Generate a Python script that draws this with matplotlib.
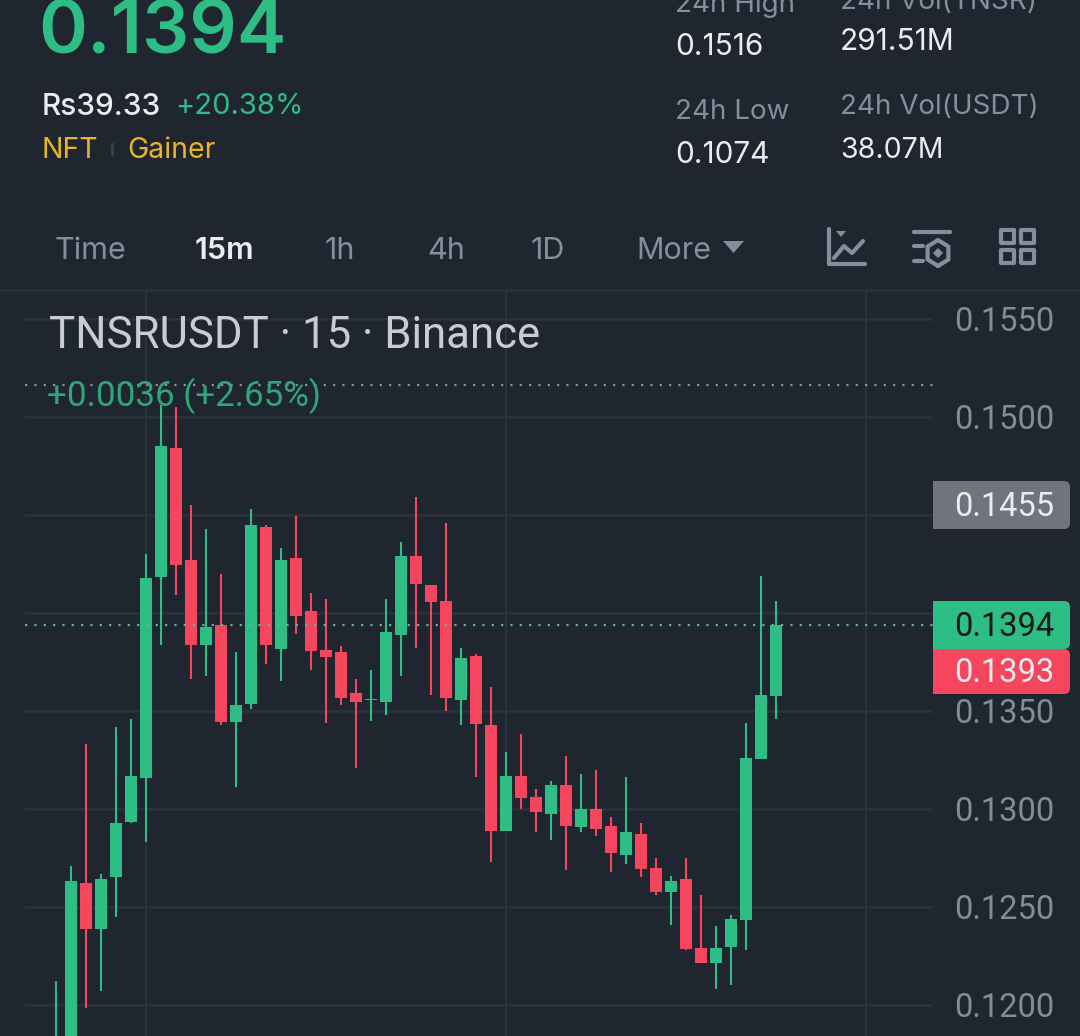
import numpy as np
import matplotlib
matplotlib.use("Agg")
import matplotlib.pyplot as plt
from matplotlib.patches import FancyBboxPatch

# candles, left to right (price units)
opens = [0.11743, 0.11718, 0.12621, 0.12387, 0.12652, 0.12934, 0.13157, 0.14183, 0.14841, 0.14270,
         0.13836, 0.13937, 0.13442, 0.13536, 0.14438, 0.13815, 0.14279, 0.14009, 0.13811, 0.13801,
         0.13591, 0.13557, 0.13546, 0.13886, 0.14289, 0.14140, 0.14060, 0.13555, 0.13779, 0.13427,
         0.12886, 0.13167, 0.13060, 0.12973, 0.13121, 0.12907, 0.12999, 0.12912, 0.12764, 0.12871,
         0.12697, 0.12575, 0.12641, 0.12289, 0.12213, 0.12294, 0.12432, 0.13254, 0.13575]
highs = [0.12121, 0.12706, 0.13331, 0.12665, 0.13417, 0.13459, 0.14299, 0.15060, 0.15048, 0.14547,
         0.14425, 0.14195, 0.13798, 0.14527, 0.14448, 0.14328, 0.14495, 0.14098, 0.14070, 0.13832,
         0.13662, 0.13706, 0.14068, 0.14359, 0.14590, 0.14141, 0.14459, 0.13818, 0.13789, 0.13619,
         0.13289, 0.13381, 0.13101, 0.13141, 0.13269, 0.13177, 0.13197, 0.12958, 0.13162, 0.12927,
         0.12748, 0.12657, 0.12748, 0.12560, 0.12402, 0.12458, 0.13437, 0.14187, 0.14060]
lows = [0.11692, 0.11641, 0.11982, 0.12071, 0.12447, 0.12927, 0.12830, 0.13834, 0.14090, 0.13662,
        0.13678, 0.13428, 0.13111, 0.13509, 0.13738, 0.13652, 0.13891, 0.13708, 0.13438, 0.13529,
        0.13209, 0.13449, 0.13478, 0.13679, 0.13821, 0.13580, 0.13498, 0.13427, 0.13162, 0.12728,
        0.12886, 0.12999, 0.12881, 0.12840, 0.12687, 0.12881, 0.12861, 0.12677, 0.12718, 0.12652,
        0.12560, 0.12407, 0.12279, 0.12213, 0.12080, 0.12100, 0.12279, 0.13254, 0.13458]
closes = [0.11794, 0.12632, 0.12387, 0.12642, 0.12927, 0.13167, 0.14177, 0.14852, 0.14243, 0.13836,
          0.13927, 0.13442, 0.13529, 0.14448, 0.13836, 0.14270, 0.13983, 0.13805, 0.13774, 0.13565,
          0.13544, 0.13562, 0.13900, 0.14289, 0.14146, 0.14055, 0.13565, 0.13769, 0.13432, 0.12886,
          0.13167, 0.13055, 0.12983, 0.13121, 0.12912, 0.12999, 0.12896, 0.12774, 0.12881, 0.12692,
          0.12575, 0.12631, 0.12284, 0.12213, 0.12289, 0.12437, 0.13259, 0.13580, 0.13937]

price_ticks = [0.1550, 0.1500, 0.1450, 0.1400, 0.1350, 0.1300, 0.1250, 0.1200]
hidden_ticks = [0.1450, 0.1400]  # covered by the price tags on screen
time_grid = [6, 30, 54]
last_price = 0.13937
day_high = 0.15164

tabs = ["Time", "15m", "1h", "4h", "1D", "More"]
tab_x = [55, 195, 325, 427, 531, 636]

BG = "#1f2630"
GREEN = "#2ebd85"
RED = "#f6465d"
GRID = "#2b323c"
MUTED = "#848e9c"
WHITE = "#eaecef"
YELLOW = "#e8b52a"
UI_FONT = "Inter"
CHART_FONT = "Roboto"

W, H = 1080, 1036
fig = plt.figure(figsize=(W / 100, H / 100), dpi=100, facecolor=BG)

# chart panel, the limits line up the grid with the screen pixels
left, right, top, bottom = 25, 933, 290, 1036
ax = fig.add_axes([left / W, 1 - bottom / H, (right - left) / W, (bottom - top) / H])
ax.set_facecolor(BG)
ax.set_xlim((left - 56) / 15, (right - 56) / 15)
ax.set_ylim(0.15 - (bottom - 416.7) * 0.00005102, 0.15 - (top - 416.7) * 0.00005102)
for s in ax.spines.values():
    s.set_visible(False)
ax.tick_params(left=False, bottom=False, labelleft=False, labelbottom=False)

for p in price_ticks:
    ax.axhline(p, color=GRID, lw=1.8, zorder=1)
for t in time_grid:
    ax.axvline(t, color=GRID, lw=1.5, zorder=1)

for i in range(len(opens)):
    col = GREEN if closes[i] >= opens[i] else RED
    ax.plot([i, i], [lows[i], highs[i]], color=col, lw=1.5, solid_capstyle="butt", zorder=3)
    ax.bar(i, abs(closes[i] - opens[i]), bottom=min(opens[i], closes[i]), width=0.8, color=col, lw=0, zorder=3)

ax.axhline(last_price, color="#5fb59b", lw=1.6, ls=(0, (1, 3.2)), zorder=4)
ax.axhline(day_high, color="#8a929c", lw=1.6, ls=(0, (1, 3.2)), zorder=2)

# overlay in pixel coordinates for the app chrome
ov = fig.add_axes([0, 0, 1, 1])
ov.set_xlim(0, W)
ov.set_ylim(H, 0)
ov.axis("off")
ov.patch.set_alpha(0)


def txt(x, y, s, size, color, ha="left", weight="normal", font=UI_FONT):
    ov.text(x, y, s, fontsize=size, color=color, ha=ha, va="center", family=font, fontweight=weight)


def tag(y0, y1, color):
    # rounded on the right side only
    ov.add_patch(FancyBboxPatch((933, y0), 137, y1 - y0, boxstyle="round,pad=0,rounding_size=6",
                                fc=color, ec="none", lw=0))
    ov.add_patch(plt.Rectangle((933, y0), 20, y1 - y0, fc=color, ec="none", lw=0))


txt(38, 34, "0.1394", 53.5, GREEN, weight="semibold")
txt(42, 107, "Rs39.33", 21.5, WHITE, weight="medium")
txt(175, 107, "+20.38%", 21, GREEN)
txt(42, 151, "NFT", 20.5, YELLOW)
ov.plot([112, 112], [144, 154], color="#3a424d", lw=2)
txt(127, 151, "Gainer", 20.5, YELLOW)

txt(675, 5, "24h High", 20, MUTED)
txt(675, 47, "0.1516", 21.5, WHITE)
txt(675, 112, "24h Low", 20, MUTED)
txt(675, 155, "0.1074", 21.5, WHITE)
txt(840, 2, "24h Vol(TNSR)", 20, MUTED)
txt(840, 42, "291.51M", 21.5, WHITE)
txt(840, 107, "24h Vol(USDT)", 20, MUTED)
txt(840, 151, "38.07M", 20.5, WHITE)

for name, x in zip(tabs, tab_x):
    if name == "15m":
        txt(x, 251, name, 22, WHITE, weight="semibold")
    else:
        txt(x, 251, name, 22, MUTED)
ov.fill([723, 744, 733.5], [241, 241, 253], color=MUTED, lw=0)
ov.plot([0, W], [290, 290], color="#2a313b", lw=2)

# toolbar icons
ic = dict(color=MUTED, lw=3, solid_capstyle="round", solid_joinstyle="round")
ov.plot([829, 829, 865], [229, 264, 264], **ic)
ov.plot([834, 844, 852, 863], [258, 246, 253, 241], **ic)
ov.fill([836, 846, 841], [231, 231, 237], color=MUTED, lw=0)
ov.plot([914, 950], [232, 232], **ic)
ov.plot([914, 923], [246, 246], **ic)
ov.plot([914, 923], [261, 261], **ic)
hx = 938 + 12 * np.sin(np.arange(7) * np.pi / 3)
hy = 253 + 13 * np.cos(np.arange(7) * np.pi / 3)
ov.plot(hx, hy, **ic)
ov.fill([938, 943, 938, 933], [248, 253, 258, 253], color=MUTED, lw=0)
for bx in (1001, 1021):
    for by in (230, 250):
        ov.add_patch(plt.Rectangle((bx, by), 13, 13, fill=False, ec=MUTED, lw=3, joinstyle="round"))

# price labels
for p in price_ticks:
    if p in hidden_ticks:
        continue
    yy = 416.7 + (0.15 - p) / 0.00005102
    txt(1054, yy + 3.5, f"{p:.4f}", 23.5, "#858c97", ha="right", font=CHART_FONT)

tag(481, 529, "#6f747e")
txt(1054, 507.5, "0.1455", 23.5, WHITE, ha="right", font=CHART_FONT)
tag(601, 649, GREEN)
txt(1054, 627.5, "0.1394", 23.5, "#14181f", ha="right", font=CHART_FONT)
tag(649, 694, RED)
txt(1054, 673.5, "0.1393", 23.5, WHITE, ha="right", font=CHART_FONT)

txt(49, 336, "TNSRUSDT · 15 · Binance", 31.5, "#c9ccd6", font=CHART_FONT)
txt(47, 396, "+0.0036 (+2.65%)", 25.2, "#2fa67a", font=CHART_FONT)

fig.savefig("out.png", dpi=100, facecolor=BG)
